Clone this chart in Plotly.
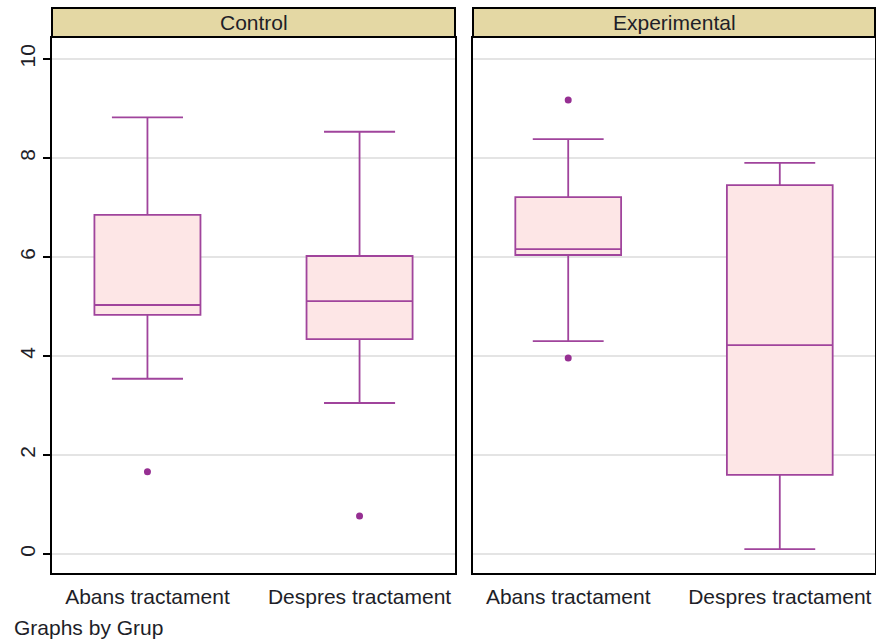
import plotly.graph_objects as go

# ---- data ----
groups = ["Control", "Experimental"]
categories = ["Abans tractament", "Despres tractament"]
cat_pos = [0, 1]

control_lower = [3.54, 3.05]
control_q1 = [4.83, 4.34]
control_median = [5.03, 5.11]
control_q3 = [6.85, 6.02]
control_upper = [8.82, 8.53]
control_out_x = [0, 1]
control_out_y = [1.66, 0.77]

exp_lower = [4.30, 0.10]
exp_q1 = [6.04, 1.60]
exp_median = [6.16, 4.22]
exp_q3 = [7.21, 7.45]
exp_upper = [8.38, 7.90]
exp_out_x = [0, 0]
exp_out_y = [9.17, 3.96]

y_ticks = [0, 2, 4, 6, 8, 10]

# ---- style ----
W, H = 876, 639
line_col = "#a0449c"
fill_col = "#fde6e6"
pt_col = "#962f92"
strip_col = "#e4d8a4"
font_fam = "Liberation Sans, Arial, sans-serif"
txt_col = "#1e1e28"
fs = 21

fig = go.Figure()

panels = [
    (control_lower, control_q1, control_median, control_q3, control_upper, control_out_x, control_out_y, "x", "y"),
    (exp_lower, exp_q1, exp_median, exp_q3, exp_upper, exp_out_x, exp_out_y, "x2", "y2"),
]
for lo, q1, med, q3, up, ox, oy, xa, ya in panels:
    fig.add_trace(go.Box(
        x=cat_pos, q1=q1, median=med, q3=q3, lowerfence=lo, upperfence=up,
        boxpoints=False, width=0.5, whiskerwidth=0.67,
        line=dict(color=line_col, width=1.8), fillcolor=fill_col,
        xaxis=xa, yaxis=ya, showlegend=False, hoverinfo="skip",
    ))
    fig.add_trace(go.Scatter(
        x=ox, y=oy, mode="markers",
        marker=dict(color=pt_col, size=7),
        xaxis=xa, yaxis=ya, showlegend=False, hoverinfo="skip",
    ))

x1 = [52 / W, 455 / W]
x2 = [473 / W, 875 / W]
ydom = [1 - 573 / H, 1 - 38 / H]
yrange = [-0.384, 10.424]

common_x = dict(range=[-0.45, 1.45], tickvals=cat_pos, ticktext=categories,
                showgrid=False, zeroline=False, showline=True, mirror=True,
                linecolor="black", linewidth=2, ticks="",
                tickfont=dict(family=font_fam, size=fs, color=txt_col),
                ticklabelstandoff=4)
common_y = dict(range=yrange, tickvals=y_ticks, showgrid=True,
                gridcolor="#e4e4e4", gridwidth=1.5, zeroline=False,
                showline=True, mirror=True, linecolor="black", linewidth=2)

fig.update_layout(
    width=W, height=H, margin=dict(l=0, r=0, t=0, b=0),
    paper_bgcolor="white", plot_bgcolor="white",
    xaxis=dict(domain=x1, anchor="y", **common_x),
    xaxis2=dict(domain=x2, anchor="y2", **common_x),
    yaxis=dict(domain=ydom, anchor="x", ticks="outside", ticklen=7,
               tickcolor="black", tickwidth=1.5, tickangle=-90,
               tickfont=dict(family=font_fam, size=fs, color=txt_col),
               ticklabelstandoff=0, **common_y),
    yaxis2=dict(domain=ydom, anchor="x2", matches="y", showticklabels=False,
                ticks="", **common_y),
)

strip_y0 = 1 - 37 / H
strip_y1 = 1 - 8 / H
for g, dom in zip(groups, [x1, x2]):
    fig.add_shape(type="rect", xref="paper", yref="paper",
                  x0=dom[0], x1=dom[1], y0=strip_y0, y1=strip_y1,
                  fillcolor=strip_col, line=dict(color="black", width=2))
    fig.add_annotation(x=(dom[0] + dom[1]) / 2, y=(strip_y0 + strip_y1) / 2,
                       xref="paper", yref="paper", text=g, showarrow=False,
                       xanchor="center", yanchor="middle",
                       font=dict(family=font_fam, size=fs, color=txt_col))

fig.add_annotation(x=12 / W, y=1 - 627 / H, xref="paper", yref="paper",
                   text="Graphs by Grup", showarrow=False,
                   xanchor="left", yanchor="middle",
                   font=dict(family=font_fam, size=fs, color=txt_col))

fig.write_html("out.html", config={"displayModeBar": False},
               post_script="document.body.style.margin='0';document.body.style.overflow='hidden';")
